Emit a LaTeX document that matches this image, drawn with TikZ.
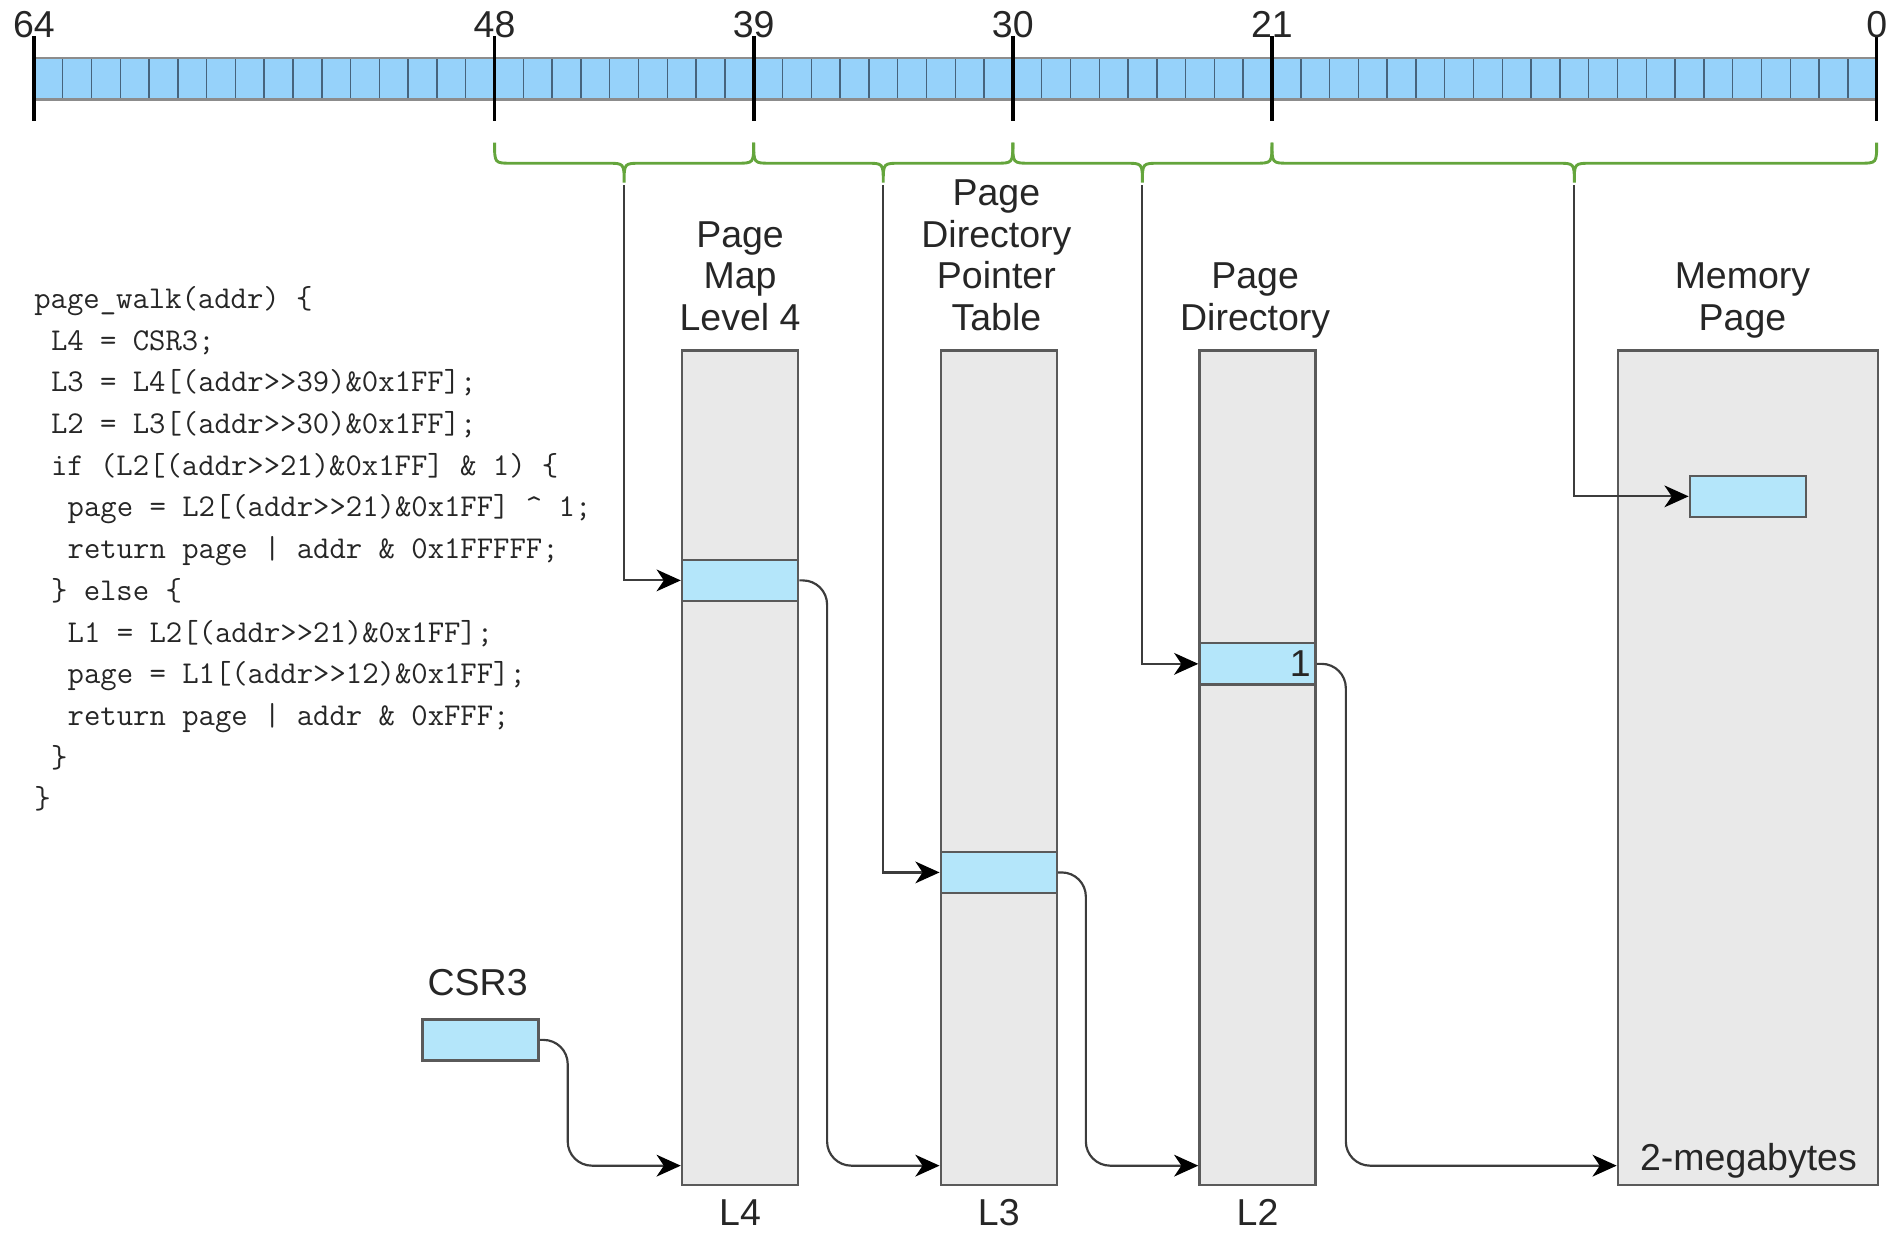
\documentclass[tikz,border=0pt]{standalone}
\usepackage{fontspec}
\setmainfont{Liberation Sans}
\usetikzlibrary{arrows.meta,calc}
\definecolor{bitfill}{RGB}{150,210,250}
\definecolor{bitline}{RGB}{70,100,125}
\definecolor{bitedge}{RGB}{140,140,140}
\definecolor{entryfill}{RGB}{180,230,250}
\definecolor{colfill}{RGB}{233,233,233}
\definecolor{colborder}{RGB}{90,90,90}
\definecolor{bracegreen}{RGB}{100,165,60}
\definecolor{linkgray}{RGB}{60,60,60}
\newcommand\shr{>\kern0pt>}
\begin{document}
\begin{tikzpicture}[x=0.5pt,y=-0.5pt,
  colbox/.style={draw=colborder, fill=colfill, line width=1pt, minimum width=48pt, minimum height=345pt, inner sep=0pt},
  entrybox/.style={draw=colborder, fill=entryfill, line width=1pt, minimum width=48pt, minimum height=17pt, inner sep=0pt},
  lbl/.style={font=\fontsize{15.5}{17.25}\selectfont, align=center, inner sep=0pt, text=black!85},
  codeline/.style={font=\ttfamily\fontsize{13.14}{17.25}\selectfont, anchor=base west, inner sep=0pt, text=black!85},
  link/.style={draw=linkgray, line width=0.9pt, -{Stealth[length=10pt,width=9pt,inset=3pt,black]}},
  bracestyle/.style={draw=bracegreen, line width=1.2pt},
  tick/.style={draw=black, line width=1.5pt}]
\useasboundingbox (0,0) rectangle (1568,1026);

% bit bar
\path[fill=bitfill] (28,48) rectangle (1552,82);
\foreach \i in {1,...,63} \draw[bitline, line width=0.6pt] (28+\i*23.8125,48) -- (28+\i*23.8125,82);
\draw[bitedge, line width=1.2pt] (28,48) -- (1552,48) (28,82) -- (1552,82);
\foreach \n/\x in {64/28, 48/409.0, 39/623.3, 30/837.6, 21/1051.9, 0/1552} {
  \draw[tick] (\x,30) -- (\x,100);
  \node[lbl, anchor=base] (b\n) at (\x,31) {\n};
}

% braces
\foreach \a/\b/\nm in {409.0/623.3/t48, 623.3/837.6/t39, 837.6/1051.9/t30, 1051.9/1552/t21} {
  \pgfmathsetmacro\m{(\a+\b)/2}
  \draw[bracestyle] (\a,118) .. controls (\a,135) .. (\a+14,135) -- (\m-14,135)
     .. controls (\m,135) .. (\m,151) .. controls (\m,135) .. (\m+14,135)
     -- (\b-14,135) .. controls (\b,135) .. (\b,118);
  \coordinate (\nm) at (\m,153);
}

% tables
\node[colbox] (l4) at (612,635) {};
\node[colbox] (l3) at (826,635) {};
\node[colbox] (l2) at (1040,635) {};
\node[colbox, minimum width=107.5pt] (mp) at (1445.5,635) {};

\node[entrybox] (l4e) at (612,480) {};
\node[entrybox] (l3e) at (826,721.5) {};
\node[entrybox, lbl, text width=44pt, align=right] (l2e) at (1040,549) {1};
\node[entrybox] (mpe) at (1445.5,410.5) {};
\node[entrybox] (csr) at (397.5,860) {};

% labels
\node[lbl, anchor=south] (l4t) at (612,274) {Page\\Map\\Level 4};
\node[lbl, anchor=south] (l3t) at (824,274) {Page\\Directory\\Pointer\\Table};
\node[lbl, anchor=south] (l2t) at (1038,280) {Page\\Directory};
\node[lbl, anchor=south] (mpt) at (1441,280) {Memory\\Page};
\node[lbl] (l4b) at (612,1003) {L4};
\node[lbl] (l3b) at (826,1003) {L3};
\node[lbl] (l2b) at (1040,1003) {L2};
\node[lbl] (mpb) at (1446,960) {2-megabytes};
\node[lbl] (csrt) at (395,813) {CSR3};

% index links
\draw[link] (t48) |- (l4e.west);
\draw[link] (t39) |- (l3e.west);
\draw[link] (t30) |- (l2e.west);
\draw[link] (t21) |- (mpe.west);

% pointer links
\draw[link, rounded corners=10pt] (csr.east) -- ([xshift=11.5pt]csr.east) |- ([yshift=8.5pt]l4.south west);
\draw[link, rounded corners=10pt] (l4e.east) -- ([xshift=11.5pt]l4e.east) |- ([yshift=8.5pt]l3.south west);
\draw[link, rounded corners=10pt] (l3e.east) -- ([xshift=11.5pt]l3e.east) |- ([yshift=8.5pt]l2.south west);
\draw[link, rounded corners=10pt] (l2e.east) -- ([xshift=12pt]l2e.east) |- ([yshift=8.5pt]mp.south west);

% code
\node[codeline] (c1) at (28,255) {page\_walk(addr) \{};
\node[codeline] (c2) at (41.8,289.5) {L4 = CSR3;};
\node[codeline] (c3) at (41.8,324) {L3 = L4[(addr\shr39)\&0x1FF];};
\node[codeline] (c4) at (41.8,358.5) {L2 = L3[(addr\shr30)\&0x1FF];};
\node[codeline] (c5) at (41.8,393) {if (L2[(addr\shr21)\&0x1FF] \& 1) \{};
\node[codeline] (c6) at (55.6,427.5) {page = L2[(addr\shr21)\&0x1FF] \textasciicircum{} 1;};
\node[codeline] (c7) at (55.6,462) {return page | addr \& 0x1FFFFF;};
\node[codeline] (c8) at (41.8,496.5) {\} else \{};
\node[codeline] (c9) at (55.6,531) {L1 = L2[(addr\shr21)\&0x1FF];};
\node[codeline] (c10) at (55.6,565.5) {page = L1[(addr\shr12)\&0x1FF];};
\node[codeline] (c11) at (55.6,600) {return page | addr \& 0xFFF;};
\node[codeline] (c12) at (41.8,634.5) {\}};
\node[codeline] (c13) at (28,669) {\}};
\end{tikzpicture}
\end{document}
